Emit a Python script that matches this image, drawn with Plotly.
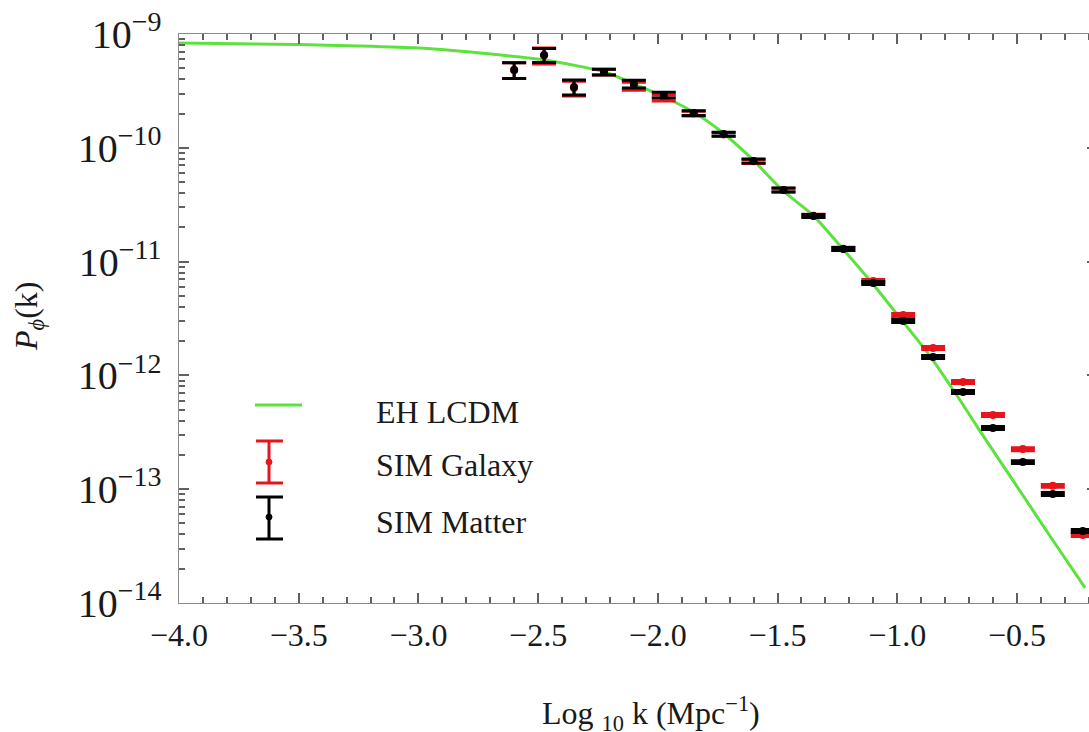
import plotly.graph_objects as go

# ---------------- data ----------------
# EH LCDM curve
curve_logk = [-4.0, -3.5, -3.25, -3.0, -2.743, -2.471, -2.221, -2.1, -1.991, -1.853, -1.728,
              -1.602, -1.481, -1.352, -1.231, -1.105, -0.988, -0.863, -0.738, -0.654,
              -0.487, -0.362, -0.215]
curve_pk = [8.34e-10, 8.09e-10, 7.85e-10, 7.53e-10, 6.81e-10, 5.91e-10, 4.63e-10, 3.64e-10,
            2.91e-10, 2.07e-10, 1.35e-10, 7.82e-11, 4.26e-11, 2.56e-11, 1.32e-11, 6.49e-12,
            3.19e-12, 1.48e-12, 6.08e-13, 3.24e-13, 9.64e-14, 3.88e-14, 1.36e-14]

# simulation bins
sim_logk = [-2.600, -2.475, -2.350, -2.225, -2.100, -1.975, -1.850, -1.725, -1.600, -1.475,
            -1.350, -1.225, -1.100, -0.975, -0.850, -0.725, -0.600, -0.475, -0.350, -0.225]

galaxy_pk = [4.83e-10, 6.5e-10, 3.35e-10, 4.63e-10, 3.49e-10, 2.74e-10, 2.00e-10, 1.31e-10,
             7.6e-11, 4.25e-11, 2.53e-11, 1.30e-11, 6.76e-12, 3.40e-12, 1.74e-12, 8.75e-13,
             4.49e-13, 2.25e-13, 1.07e-13, 3.96e-14]
galaxy_relerr = [0.16, 0.16, 0.15, 0.06, 0.08, 0.06, 0.05, 0.04, 0.04, 0.04,
                 0.03, 0.03, 0.03, 0.03, 0.03, 0.03, 0.03, 0.03, 0.03, 0.03]

matter_pk = [4.83e-10, 6.53e-10, 3.42e-10, 4.63e-10, 3.64e-10, 2.91e-10, 2.02e-10, 1.32e-10,
             7.65e-11, 4.26e-11, 2.52e-11, 1.29e-11, 6.49e-12, 3.01e-12, 1.45e-12, 7.15e-13,
             3.45e-13, 1.73e-13, 9.08e-14, 4.30e-14]
matter_relerr = [0.16, 0.14, 0.15, 0.06, 0.08, 0.06, 0.05, 0.04, 0.04, 0.04,
                 0.03, 0.03, 0.03, 0.03, 0.03, 0.03, 0.03, 0.03, 0.03, 0.03]

legend_labels = ["EH LCDM", "SIM Galaxy", "SIM Matter"]

# ---------------- styling ----------------
FONT = "Liberation Serif"
TXT = "#1a1a1a"
GREEN = "#5ce23e"
RED = "#e8141c"
BLACK = "#000000"
AXIS = "#8a8a8a"
TICK = "#606060"

# figure slightly wider than the window so the right frame is cropped off,
# as in the reference
W, H = 1097, 732
L, R, T, B = 179, 0, 34, 129
PW, PH = W - L - R, H - T - B
X_MIN = -4.0
X_MAX = -4.0 + PW / 239.4  # 239.4 px per unit -> -0.2 at the window edge


def px(x):
    return (x - L) / PW


def py(y):
    return (H - B - y) / PH


fig = go.Figure()

fig.add_trace(go.Scatter(
    x=curve_logk, y=curve_pk, mode="lines",
    line=dict(color=GREEN, width=3, shape="spline", smoothing=0.6),
    showlegend=False, hoverinfo="skip"))

fig.add_trace(go.Scatter(
    x=sim_logk, y=galaxy_pk, mode="markers",
    marker=dict(color=RED, size=8),
    error_y=dict(type="data", array=[v * e for v, e in zip(galaxy_pk, galaxy_relerr)],
                 color=RED, thickness=3, width=12),
    showlegend=False))

fig.add_trace(go.Scatter(
    x=sim_logk, y=matter_pk, mode="markers",
    marker=dict(color=BLACK, size=8),
    error_y=dict(type="data", array=[v * e for v, e in zip(matter_pk, matter_relerr)],
                 color=BLACK, thickness=3, width=12),
    showlegend=False))

# ---------------- custom legend ----------------
shapes = []
shapes.append(dict(type="line", xref="paper", yref="paper",
                   x0=px(255), x1=px(302), y0=py(405), y1=py(405),
                   line=dict(color=GREEN, width=3)))
for col, top, bot, mid in [(RED, 441, 483, 462), (BLACK, 497, 539, 517)]:
    shapes.append(dict(type="line", xref="paper", yref="paper",
                       x0=px(269), x1=px(269), y0=py(top), y1=py(bot),
                       line=dict(color=col, width=3)))
    for yy in (top, bot):
        shapes.append(dict(type="line", xref="paper", yref="paper",
                           x0=px(256), x1=px(283), y0=py(yy), y1=py(yy),
                           line=dict(color=col, width=3)))
    shapes.append(dict(type="circle", xref="paper", yref="paper",
                       x0=px(266), x1=px(272), y0=py(mid - 3), y1=py(mid + 3),
                       fillcolor=col, line=dict(color=col, width=1)))

annotations = []
for lab, yy in zip(legend_labels, [412, 465, 522]):
    annotations.append(dict(text=lab, xref="paper", yref="paper",
                            x=px(374), y=py(yy), xanchor="left", yanchor="middle",
                            showarrow=False, font=dict(family=FONT, size=32, color=TXT)))

annotations.append(dict(text="Log <sub>10</sub> k (Mpc<sup>−1</sup>)", xref="paper", yref="paper",
                        x=px(651), y=py(713), xanchor="center", yanchor="middle",
                        showarrow=False, font=dict(family=FONT, size=32, color=TXT)))
annotations.append(dict(text="<i>P</i><sub><i>ϕ</i></sub>(k)", xref="paper", yref="paper",
                        x=px(28), y=py(317), xanchor="center", yanchor="middle",
                        textangle=-90, showarrow=False,
                        font=dict(family=FONT, size=32, color=TXT)))

fig.update_layout(
    width=W, height=H, autosize=False,
    margin=dict(l=L, r=R, t=T, b=B, pad=0),
    paper_bgcolor="white", plot_bgcolor="white",
    font=dict(family=FONT, size=32, color=TXT),
    shapes=shapes, annotations=annotations,
    showlegend=False,
)

fig.update_xaxes(
    range=[X_MIN, X_MAX], dtick=0.5, tickformat=".1f",
    showgrid=False, zeroline=False,
    showline=True, linecolor=AXIS, mirror="ticks",
    ticks="inside", ticklen=10, tickwidth=2, tickcolor=TICK,
    minor=dict(dtick=0.1, ticks="inside", ticklen=6, tickwidth=1.5, tickcolor=TICK),
    tickfont=dict(family=FONT, size=32, color=TXT),
    ticklabelstandoff=4,
)

fig.update_yaxes(
    type="log", range=[-14, -9], dtick=1, exponentformat="power",
    showgrid=False, zeroline=False,
    showline=True, linecolor=AXIS, mirror="ticks",
    ticks="inside", ticklen=10, tickwidth=2, tickcolor=TICK,
    minor=dict(ticks="inside", ticklen=6, tickwidth=1.5, tickcolor=TICK),
    tickfont=dict(family=FONT, size=32, color=TXT),
    ticklabelstandoff=10,
)

fig.write_html("out.html", config={"displayModeBar": False},
               post_script="document.body.style.margin='0';"
                           "document.body.style.overflow='hidden';"
                           "document.documentElement.style.overflow='hidden';")
